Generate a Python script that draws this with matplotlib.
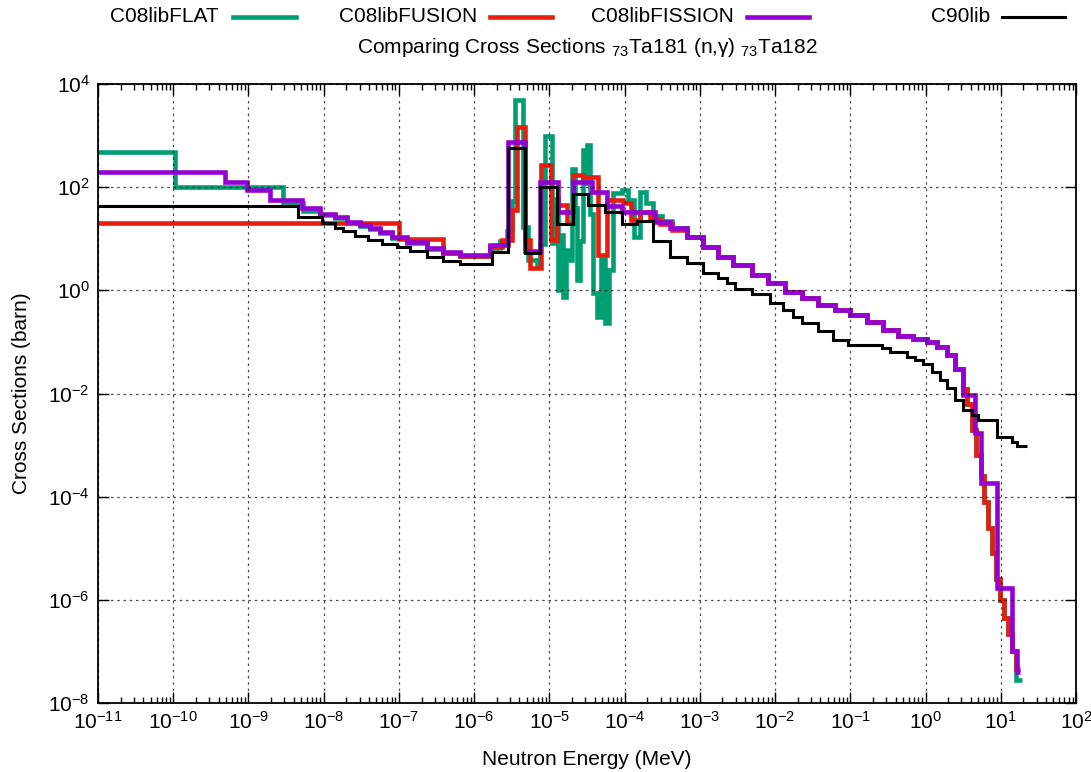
import matplotlib
matplotlib.use('Agg')
import matplotlib.pyplot as plt
from matplotlib.lines import Line2D
from matplotlib.ticker import LogLocator, NullLocator

plt.rcParams['font.family'] = ['Liberation Sans', 'DejaVu Sans']
plt.rcParams['mathtext.fontset'] = 'custom'
plt.rcParams['mathtext.rm'] = 'Liberation Sans'
plt.rcParams['mathtext.it'] = 'Liberation Sans:italic'
plt.rcParams['mathtext.bf'] = 'Liberation Sans:bold'

# group boundaries (MeV) and cross sections (barn)
flat_e = [1e-11, 1.05e-10, 2.9e-9, 5.3e-9, 8.9e-9, 1.42e-8, 2.05e-8, 3.05e-8, 4.1e-8, 5.6e-8,
          8.1e-8, 1.29e-7, 2.37e-7, 3.9e-7, 6.5e-7, 1.63e-6, 2.22e-6, 2.75e-6, 3.2e-6, 3.5e-6,
          4.5e-6, 5.2e-6, 6.9e-6, 7.6e-6, 8.8e-6, 1.09e-5, 1.19e-5, 1.31e-5, 1.42e-5, 1.53e-5,
          1.65e-5, 1.78e-5, 2.01e-5, 2.17e-5, 2.34e-5, 2.55e-5, 2.81e-5, 3.0e-5, 3.18e-5, 3.5e-5,
          3.82e-5, 4.33e-5, 4.9e-5, 5.5e-5, 6.2e-5, 7.05e-5, 9.3e-5, 1.12e-4, 1.34e-4, 1.61e-4,
          1.94e-4, 2.4e-4, 3.16e-4, 4.3e-4, 6.8e-4]
flat_xs = [480, 100, 49, 34, 29, 25, 20.5, 18, 15.5, 13, 10.5, 8.4, 6.4, 5.3, 4.7, 6.5, 9, 14,
           55, 4900, 17, 3.9, 3.1, 8, 1000, 8.3, 60, 1.0, 12, 0.74, 6, 3.9, 230, 40, 1.6, 9,
           530, 120, 660, 30, 0.9, 0.31, 4, 0.23, 2.5, 78, 90, 56, 10.7, 81, 49, 27, 22, 16]

fusion_e = [1e-11, 1e-7, 3.9e-7, 6.5e-7, 1.63e-6, 2.35e-6, 3.2e-6, 3.73e-6, 4.8e-6, 5.56e-6,
            7.8e-6, 1.06e-5, 1.27e-5, 1.73e-5, 2.07e-5, 2.81e-5, 4.45e-5, 5.9e-5, 9.6e-5,
            1.22e-4, 1.61e-4, 2.19e-4, 2.97e-4, 4.3e-4, 6.8e-4]
fusion_xs = [20, 9.8, 5.2, 4.6, 7, 9.5, 36, 1470, 9.5, 2.7, 270, 9.5, 46, 20, 175, 160, 4.9,
             56, 49, 23, 33, 24, 19, 15]

fission_e = [1e-11, 4.9e-10, 9.6e-10, 1.94e-9, 5.2e-9, 8.9e-9, 1.42e-8, 2.05e-8, 3.05e-8,
             4.1e-8, 5.6e-8, 8.1e-8, 1.29e-7, 2.37e-7, 3.9e-7, 6.5e-7, 1.63e-6, 2.83e-6, 4.8e-6,
             7.6e-6, 1.31e-5, 2.07e-5, 3.7e-5, 5.9e-5, 9.3e-5, 2.55e-4, 4.0e-4, 6.8e-4]
fission_xs = [200, 125, 88, 56, 40, 30, 26, 21, 18.6, 16, 13.5, 10.8, 8.7, 6.6, 5.5, 4.9, 7.4,
              760, 5.8, 125, 33, 125, 81, 44, 33, 21, 16]

# shared part of the three C08 libraries (6.8e-4 .. 3.18 MeV)
c08_mid_e = [6.8e-4, 1.1e-3, 1.76e-3, 2.8e-3, 5.0e-3, 8.1e-3, 1.37e-2, 2.3e-2, 3.75e-2, 6.3e-2,
             0.1, 0.168, 0.275, 0.435, 0.69, 1.06, 1.44, 1.95, 2.49, 3.18]
c08_mid_xs = [11, 6.8, 4.5, 3.1, 2.0, 1.4, 0.93, 0.71, 0.53, 0.41, 0.33, 0.24, 0.17, 0.13,
              0.115, 0.10, 0.08, 0.055, 0.03]

# high energy fall-off
flat_hi_e = [3.18, 3.6, 4.19, 4.74, 5.4, 6.05, 6.84, 7.73, 8.73, 9.88, 11.2, 12.6, 14.3, 16.1, 19.0]
flat_hi_xs = [0.0125, 0.0063, 0.002, 6.3e-4, 2.5e-4, 8e-5, 2.5e-5, 8e-6, 2.5e-6, 1e-6, 4.5e-7,
              2.2e-7, 1e-7, 2.8e-8]
fusion_hi_e = [3.18, 3.6, 4.19, 4.74, 5.4, 6.05, 6.84, 7.73, 8.73, 9.88, 11.2, 12.6, 14.3, 16.1, 18.2]
fusion_hi_xs = [0.0125, 0.0063, 0.002, 6.3e-4, 2.5e-4, 8e-5, 2.5e-5, 8e-6, 2.5e-6, 1e-6, 4.5e-7,
                2.2e-7, 1e-7, 4.5e-8]
fission_hi_e = [3.18, 4.6, 5.4, 9.0, 14.3, 16.6, 18.2]
fission_hi_xs = [0.0093, 0.0017, 1.8e-4, 1.7e-6, 1e-7, 4e-8]

c90_e = [1e-11, 4.6e-9, 9.5e-9, 1.42e-8, 1.81e-8, 2.62e-8, 3.9e-8, 5.98e-8, 9.5e-8, 1.41e-7,
         2.37e-7, 3.9e-7, 6.5e-7, 1.73e-6, 2.83e-6, 4.8e-6, 7.6e-6, 1.27e-5, 2.07e-5, 3.28e-5,
         5.5e-5, 9.3e-5, 1.47e-4, 2.4e-4, 4.0e-4, 6.8e-4, 1.1e-3, 1.76e-3, 2.31e-3, 2.96e-3,
         5.0e-3, 8.6e-3, 1.29e-2, 1.75e-2, 2.3e-2, 3.75e-2, 5.9e-2, 9.4e-2, 0.267, 0.34, 0.57,
         0.73, 0.935, 1.23, 1.57, 1.95, 2.49, 3.18, 4.19, 5.04, 9.0, 14.3, 16.6, 22.6]
c90_xs = [44, 26, 20, 16.5, 14, 11.5, 9.5, 8, 6.9, 5.8, 4.5, 3.7, 3.2, 5.5, 575, 5.3, 100, 19,
          74, 46, 33, 19, 22, 9, 4.5, 3.4, 2.2, 1.7, 1.4, 1.07, 0.85, 0.57, 0.42, 0.31, 0.23,
          0.165, 0.11, 0.088, 0.076, 0.065, 0.051, 0.045, 0.038, 0.026, 0.018, 0.013, 0.0076,
          0.0048, 0.0039, 0.003, 0.00142, 0.00115, 0.00098]

labels = ['C08libFLAT', 'C08libFUSION', 'C08libFISSION', 'C90lib']
colors = ['#009e73', '#e51e10', '#9400d3', 'black']
widths = [3.3, 3.3, 3.3, 2.2]

series = [
    (flat_e + c08_mid_e[1:] + flat_hi_e[1:], flat_xs + c08_mid_xs + flat_hi_xs),
    (fusion_e + c08_mid_e[1:] + fusion_hi_e[1:], fusion_xs + c08_mid_xs + fusion_hi_xs),
    (fission_e + c08_mid_e[1:] + fission_hi_e[1:], fission_xs + c08_mid_xs + fission_hi_xs),
    (c90_e, c90_xs),
]

fig = plt.figure(figsize=(10.91, 7.72), dpi=100)
ax = fig.add_axes([98 / 1091, 69 / 772, 978 / 1091, 619 / 772])

for (e, xs), c, lw in zip(series, colors, widths):
    ax.stairs(xs, e, baseline=None, color=c, lw=lw)

ax.set_xscale('log')
ax.set_yscale('log')
ax.set_xlim(1e-11, 1e2)
ax.set_ylim(1e-8, 1e4)
ax.set_xticks([10.0 ** k for k in range(-11, 3)])
ax.set_yticks([10.0 ** k for k in range(-8, 5, 2)])
ax.xaxis.set_minor_locator(LogLocator(base=10, subs=range(2, 10), numticks=20))
ax.yaxis.set_minor_locator(NullLocator())
ax.tick_params(which='both', direction='in', top=True, right=True, labelsize=15, width=1)
ax.tick_params(which='major', length=8, pad=6)
ax.tick_params(which='minor', length=4)
for s in ax.spines.values():
    s.set_linewidth(1.3)
ax.grid(True, which='major', color='black', alpha=0.7, lw=0.9, ls=(0, (2, 3)))

ax.set_xlabel('Neutron Energy (MeV)', fontsize=15, labelpad=12)
ax.set_ylabel('Cross Sections (barn)', fontsize=15, labelpad=12)

fig.text(0.538, 0.938, r'Comparing Cross Sections $_{73}$Ta181 (n,γ) $_{73}$Ta182',
         ha='center', va='center', fontsize=15)

# key across the top
text_right = [219, 477, 734, 990]
line_x = [(233, 296), (490, 552), (747, 809), (1002, 1065)]
for lab, c, lw, tr, (x0, x1) in zip(labels, colors, widths, text_right, line_x):
    fig.text(tr / 1091, 1 - 17 / 772, lab, ha='right', va='center', fontsize=15)
    fig.add_artist(Line2D([x0 / 1091, x1 / 1091], [1 - 17 / 772] * 2,
                          transform=fig.transFigure, color=c, lw=lw))

fig.savefig('out.png', dpi=100)
